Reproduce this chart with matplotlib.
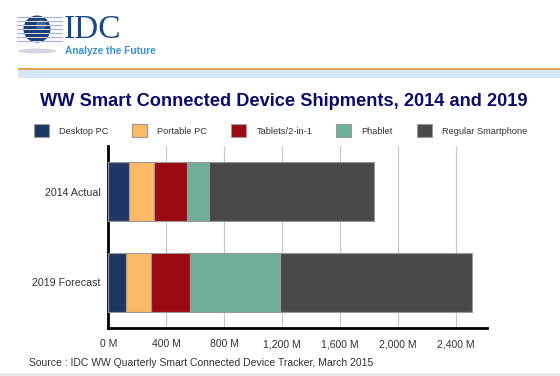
import numpy as np
import matplotlib.pyplot as plt
from matplotlib.patches import Circle, Ellipse, Rectangle

plt.rcParams['font.family'] = ['Liberation Sans', 'DejaVu Sans']

# Shipments in millions
categories = ['2014 Actual', '2019 Forecast']
series_names = ['Desktop PC', 'Portable PC', 'Tablets/2-in-1', 'Phablet', 'Regular Smartphone']
desktop_pc = [141, 124]
portable_pc = [172, 173]
tablets = [230, 268]
phablet = [154, 622]
smartphone = [1140, 1330]
series_colors = ['#1f3564', '#fdb964', '#9b0a10', '#6fae98', '#4a4949']

xticks = [0, 400, 800, 1200, 1600, 2000, 2400]
xtick_labels = ['0 M', '400 M', '800 M', '1,200 M', '1,600 M', '2,000 M', '2,400 M']

title = 'WW Smart Connected Device Shipments, 2014 and 2019'
source = 'Source : IDC WW Quarterly Smart Connected Device Tracker, March 2015'

W, H = 560, 376
fig = plt.figure( figsize = ( W / 100, H / 100 ), dpi = 100 )

# background layer in pixel coordinates for header, logo and footer
bg = fig.add_axes( [0, 0, 1, 1], zorder = 0 )
bg.set_xlim( 0, W )
bg.set_ylim( H, 0 )
bg.axis( 'off' )

# header bars
bg.add_patch( Rectangle( ( 18, 69.7 ), W - 18, 8, color = '#d6e6f4', lw = 0 ) )
bg.add_patch( Rectangle( ( 18, 67.5 ), W - 18, 2.2, color = '#e0a64b', lw = 0 ) )
# footer strip
bg.add_patch( Rectangle( ( 0, 373 ), W, 3, color = '#e8e8e8', lw = 0 ) )

# logo: striped globe
bg.add_patch( Ellipse( ( 37, 51 ), 38, 5, color = '#d4d6e0', lw = 0 ) )
for yy in np.arange( 17, 42, 4 ) :
	bg.plot( [17, 62], [yy, yy], color = '#aab2d6', lw = 0.9, zorder = 1 )
globe = Circle( ( 37, 29 ), 13.5, color = '#1c3f7a', lw = 0, zorder = 3 )
bg.add_patch( globe )
bg.add_patch( Circle( ( 41, 25 ), 5, color = '#5f7fb8', lw = 0, zorder = 3, alpha = 0.6 ) )
for yy in np.arange( 17, 42, 4 ) :
	ln, = bg.plot( [20, 54], [yy, yy], color = 'white', lw = 0.6, zorder = 4 )
	ln.set_clip_path( globe )
bg.text( 64, 38.5, 'IDC', family = 'Liberation Serif', fontsize = 24, color = '#174a87',
	ha = 'left', va = 'baseline' )
bg.text( 65, 51.5, 'Analyze the Future', fontsize = 7.3, color = '#3b8fd6',
	ha = 'left', va = 'center', fontweight = 'bold' )

# title and source
bg.text( 283.5, 101, title, fontsize = 13.15, fontweight = 'bold', color = '#0b0b6b',
	ha = 'center', va = 'center' )
bg.text( 29, 363, source, fontsize = 7.5, color = '#333333', ha = 'left', va = 'center' )

# chart
ax = fig.add_axes( [108.3 / W, 1 - 328 / H, ( 487.4 - 108.3 ) / W, ( 328 - 146 ) / H], zorder = 1 )
ax.patch.set_alpha( 0 )
ypos = np.arange( len( categories ) )
left = np.zeros( len( categories ) )
for name, vals, col in zip( series_names, [desktop_pc, portable_pc, tablets, phablet, smartphone], series_colors ) :
	ax.barh( ypos, vals, left = left, height = 0.65, color = col, edgecolor = '#9a9a9a',
		linewidth = 0.8, label = name, zorder = 3 )
	left = left + np.array( vals )

ax.set_xlim( 0, 2620 )
ax.set_ylim( 1.5, -0.5 )
ax.set_yticks( ypos )
ax.set_yticklabels( categories )
ax.set_xticks( xticks )
ax.set_xticklabels( xtick_labels )
ax.tick_params( length = 0, labelsize = 7.7, colors = '#333333' )
ax.tick_params( axis = 'x', pad = 8, labelsize = 7.5 )
ax.tick_params( axis = 'y', pad = 5.5 )
ax.grid( axis = 'x', color = '#c8c8c8', lw = 0.9, zorder = 0 )
for s in ['top', 'right'] :
	ax.spines[s].set_visible( False )
for s in ['left', 'bottom'] :
	ax.spines[s].set_linewidth( 2 )
	ax.spines[s].set_color( 'black' )

fig.legend( loc = 'center', bbox_to_anchor = ( 280.5 / W, 1 - 130.5 / H ), ncol = 5, frameon = False,
	fontsize = 6.7, handlelength = 1.6, handleheight = 1.7, handletextpad = 1.1,
	columnspacing = 2.57, labelcolor = '#333333' )

fig.savefig( 'out.png', dpi = 100 )
